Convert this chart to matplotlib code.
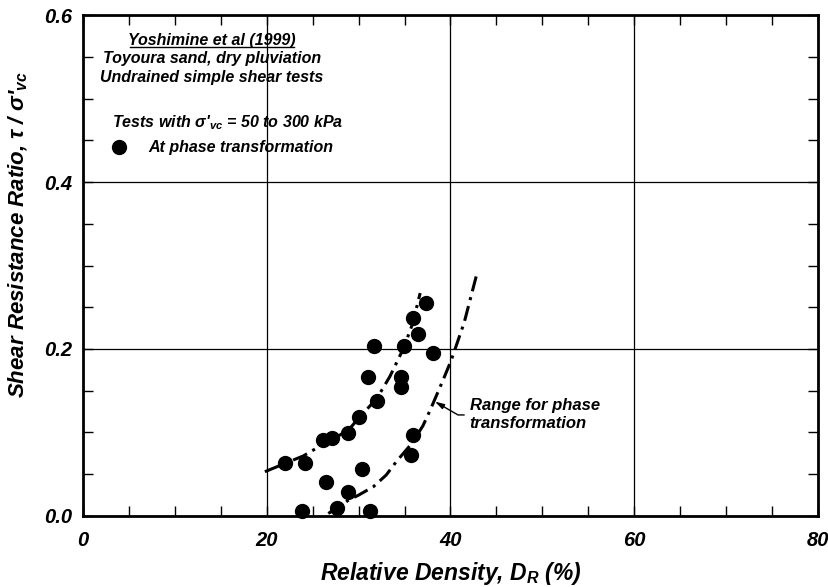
import numpy as np
import matplotlib
matplotlib.use('Agg')
from matplotlib import pyplot as plt
from matplotlib.lines import Line2D
from matplotlib.ticker import MultipleLocator, FormatStrFormatter

plt.rcParams['font.family'] = ['Liberation Sans', 'DejaVu Sans']
plt.rcParams['font.weight'] = 'bold'
plt.rcParams['font.style'] = 'italic'
plt.rcParams['mathtext.fontset'] = 'custom'
plt.rcParams['mathtext.rm'] = 'Liberation Sans:italic'
plt.rcParams['mathtext.it'] = 'Liberation Sans:italic'
plt.rcParams['mathtext.bf'] = 'Liberation Sans:italic:bold'

# test points at phase transformation (DR %, tau/sigma'vc)
dr_pts = [37.3, 35.9, 36.5, 31.7, 34.9, 38.1, 31.0, 34.6, 34.6, 32.0, 30.0, 28.9,
          27.1, 26.1, 24.2, 22.0, 35.9, 35.7, 30.4, 26.5, 28.9, 27.6, 23.8, 31.2]
csr_pts = [0.255, 0.237, 0.218, 0.203, 0.204, 0.195, 0.166, 0.166, 0.155, 0.138, 0.119, 0.099,
           0.093, 0.091, 0.064, 0.064, 0.097, 0.073, 0.056, 0.041, 0.029, 0.010, 0.006, 0.006]

# range bounds (dash-dot curves)
upper_dr = [19.8, 22.0, 24.0, 26.0, 27.5, 28.9, 30.0, 32.0, 33.4, 34.9, 35.9, 36.7]
upper_csr = [0.053, 0.063, 0.072, 0.085, 0.094, 0.103, 0.117, 0.141, 0.167, 0.201, 0.231, 0.267]
lower_dr = [26.7, 28.0, 28.9, 30.0, 31.6, 33.0, 34.1, 35.8, 37.0, 37.8, 39.2, 40.1, 41.5, 42.8]
lower_csr = [0.003, 0.012, 0.019, 0.025, 0.035, 0.049, 0.065, 0.087, 0.108, 0.127, 0.163, 0.187, 0.232, 0.287]

fig = plt.figure(figsize=(8.29, 5.87), dpi=100)
ax = fig.add_axes([0.1001, 0.121, 0.8866, 0.8534])

ax.set_xlim(0, 80)
ax.set_ylim(0, 0.6)
ax.xaxis.set_major_locator(MultipleLocator(20))
ax.xaxis.set_minor_locator(MultipleLocator(5))
ax.yaxis.set_major_locator(MultipleLocator(0.2))
ax.yaxis.set_minor_locator(MultipleLocator(0.05))
ax.yaxis.set_major_formatter(FormatStrFormatter('%.1f'))
ax.xaxis.set_major_formatter(FormatStrFormatter('%d'))
ax.grid(True, which='major', color='black', lw=0.9)
ax.tick_params(which='both', direction='in', top=True, right=True, width=1.0,
               length=7.5, labelsize=14.5, colors='black')
ax.tick_params(axis='x', pad=11)
ax.tick_params(axis='y', pad=8)
for s in ax.spines.values():
    s.set_linewidth(2.0)
ax.set_axisbelow(True)

dd = (5, 2, 1, 2)
ax.plot(upper_dr, upper_csr, color='black', lw=2.2, dashes=dd)
ax.plot(lower_dr, lower_csr, color='black', lw=2.2, dashes=dd)
ax.plot(dr_pts, csr_pts, 'o', color='black', ms=10, clip_on=False, zorder=5)

ax.set_xlabel('Relative Density, D$_R$ (%)', fontsize=16.5, fontweight='bold')
ax.set_ylabel("Shear Resistance Ratio, τ / σ'$_{vc}$", fontsize=16, fontweight='bold')
ax.xaxis.set_label_coords(0.5, -0.088)
ax.yaxis.set_label_coords(-0.072, 0.561)

title = ax.text(0.1755, 0.950, 'Yoshimine et al (1999)', transform=ax.transAxes,
                ha='center', va='center', fontsize=11.5)
ax.text(0.1755, 0.914, 'Toyoura sand, dry pluviation', transform=ax.transAxes,
        ha='center', va='center', fontsize=11.5)
ax.text(0.1755, 0.876, 'Undrained simple shear tests', transform=ax.transAxes,
        ha='center', va='center', fontsize=11.5)
ax.text(0.0395, 0.786, "Tests with σ'$_{vc}$ = 50 to 300 kPa", transform=ax.transAxes,
        ha='left', va='center', fontsize=11.5)
ax.plot([0.049], [0.7365], 'o', color='black', ms=10, transform=ax.transAxes)
ax.text(0.0884, 0.7365, 'At phase transformation', transform=ax.transAxes,
        ha='left', va='center', fontsize=11.5)

ax.annotate('Range for phase\ntransformation', xy=(38.3, 0.137), xytext=(42.1, 0.121),
            ha='left', va='center', fontsize=12, linespacing=1.25,
            arrowprops=dict(arrowstyle='-|>,head_length=0.45,head_width=0.13', color='black',
                            lw=1.0, connectionstyle='angle,angleA=0,angleB=-30,rad=0',
                            relpos=(0, 0.5), shrinkA=2, shrinkB=0))

# underline the reference title
fig.canvas.draw()
bb = title.get_window_extent()
fig.add_artist(Line2D([bb.x0 + 2, bb.x1 - 2], [bb.y0 + 1, bb.y0 + 1], color='black', lw=1.0,
                      transform=None))

fig.savefig('out.png', dpi=100)
